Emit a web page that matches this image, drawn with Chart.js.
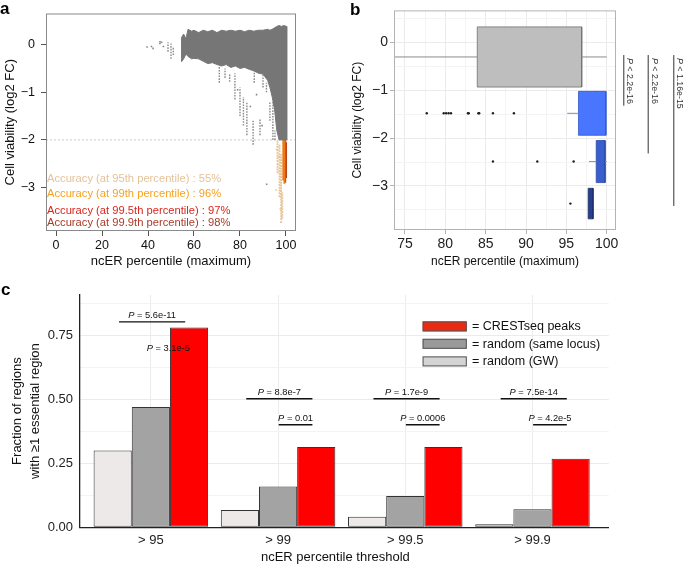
<!DOCTYPE html>
<html><head><meta charset="utf-8">
<script src="https://cdn.jsdelivr.net/npm/chart.js@4.4.1/dist/chart.umd.min.js"></script>
<style>
html,body{margin:0;padding:0;background:#fff;}
#wrap{position:relative;width:685px;height:565px;overflow:hidden;background:#fff;}
canvas{position:absolute;}
</style></head><body>
<div id="wrap">
<canvas id="ca" width="320" height="280" style="left:0;top:0;width:320px;height:280px"></canvas>
<canvas id="cb" width="365" height="280" style="left:320px;top:0;width:365px;height:280px"></canvas>
<canvas id="cc" width="685" height="285" style="left:0;top:280px;width:685px;height:285px"></canvas>
</div>
<script>
// ================= DATA =================
// Panel a: scatter of cell viability vs ncER percentile
const aTicksX = [0, 20, 40, 60, 80, 100];
const aTicksY = [0, -1, -2, -3];
const cloudX   = [54.6, 55.5, 56.5, 57.4, 59, 60, 62, 64, 66, 68, 70, 72, 74, 76, 78, 80, 82, 84, 86, 88, 90, 92, 93, 94, 95, 96, 97, 98, 99, 100.3];
const cloudTop = [0.15, 0.22, 0.12, 0.32, 0.28, 0.3, 0.25, 0.3, 0.27, 0.3, 0.25, 0.3, 0.28, 0.3, 0.28, 0.3, 0.27, 0.3, 0.28, 0.3, 0.3, 0.32, 0.3, 0.32, 0.35, 0.38, 0.4, 0.38, 0.4, 0.38];
const cloudBot = [-0.36, -0.3, -0.2, -0.25, -0.3, -0.29, -0.3, -0.35, -0.4, -0.38, -0.42, -0.45, -0.42, -0.48, -0.45, -0.5, -0.48, -0.52, -0.55, -0.6, -0.62, -0.75, -0.9, -1.1, -1.35, -1.8, -2.0, -2.0, -2.0, -2.0];
const grayColX  = [48.7, 50, 51, 71, 73.5, 75.5, 77.8, 80, 81.5, 83, 85.7, 86.2, 88.7, 90, 91.5, 93, 94.3, 95.2];
const grayColLo = [-0.15, -0.3, -0.22, -0.8, -0.7, -0.78, -1.15, -1.5, -1.7, -1.9, -2.1, -0.8, -1.9, -0.9, -1.0, -1.6, -2.0, -2.0];
const grayColHi = [0.05, 0.02, -0.05, -0.45, -0.5, -0.6, -0.6, -0.9, -1.1, -1.2, -1.6, -0.55, -1.55, -0.6, -0.8, -1.2, -1.2, -1.8];
const grayPtX = [39.6, 41.5, 42.2, 45.2, 45.2, 45.9, 46.7, 91.6, 84.5, 87.2, 89.6, 79];
const grayPtY = [-0.05, -0.04, -0.08, 0.06, 0.02, 0.05, -0.04, -2.93, -1.3, -1.05, -1.7, -0.95];
const tanColX  = [96.3, 97.2, 97.9, 98.4];
const tanColLo = [-2.7, -3.2, -3.74, -3.65];
const tanColHi = [-2.0, -2.1, -2.3, -3.1];
const tanPtX = [95.7, 96.8, 97.5, 95.9];
const tanPtY = [-3.05, -2.35, -3.45, -2.2];
const orangeColX  = [98.8, 99.3];
const orangeColLo = [-2.85, -2.92];
const orangeColHi = [-2.0, -2.0];
const redColX  = [99.7];
const redColLo = [-2.9];
const redColHi = [-2.0];
const darkColX  = [100.1];
const darkColLo = [-2.8];
const darkColHi = [-2.05];
const accLabels = ['Accuracy (at 95th percentile) : 55%', 'Accuracy (at 99th percentile) : 96%',
                   'Accuracy (at 99.5th percentile) : 97%', 'Accuracy (at 99.9th percentile) : 98%'];

// Panel b: boxplots (horizontal)
const bTicksX = [75, 77.5, 80, 82.5, 85, 87.5, 90, 92.5, 95, 97.5, 100];
const bTicksY = [0.5, 0, -0.5, -1, -1.5, -2, -2.5, -3, -3.5];
const boxCenter = [-0.30, -1.48, -2.49, -3.37];
const boxHalf   = [0.63, 0.46, 0.44, 0.32];
const boxQ1     = [83.96, 96.5, 98.7, 97.7];
const boxMed    = [94.1, 98.75, 99.6, 98.25];
const boxQ3     = [96.9, 99.9, 99.8, 98.3];
const whiskLo   = [73.7, 95.1, 97.8, 97.7];
const whiskHi   = [100, 100, 100, 98.3];
const outX      = [77.7, 79.8, 80.1, 80.4, 80.7, 82.8, 82.9, 84.1, 84.2, 85.9, 88.5, 85.9, 91.4, 95.9, 95.5];
const outBox    = [1, 1, 1, 1, 1, 1, 1, 1, 1, 1, 1, 2, 2, 2, 3];
const brTop     = [-0.26, -0.26, -0.26];
const brBottom  = [-1.32, -2.32, -3.42];
const brLabels  = [' < 2.2e-16', ' < 2.2e-16', ' < 1.16e-15'];

// Panel c: grouped bars
const cCategories = ['> 95', '> 99', '> 99.5', '> 99.9'];
const cSeriesNames = ['random (GW)', 'random (same locus)', 'CRESTseq peaks'];
const cGW     = [0.300, 0.068, 0.041, 0.0115];
const cLocus  = [0.470, 0.159, 0.122, 0.070];
const cCrest  = [0.780, 0.313, 0.313, 0.268];
const cTicksY = [0, 0.125, 0.25, 0.375, 0.5, 0.625, 0.75, 0.875];
const pTopText = [' = 5.6e-11', ' = 8.8e-7', ' = 1.7e-9', ' = 7.5e-14'];
const pTopY    = [0.802, 0.502, 0.502, 0.502];
const pLowText = [' = 3.1e-5', ' = 0.01', ' = 0.0006', ' = 4.2e-5'];
const pLowY    = [0.672, 0.40, 0.40, 0.40];
const pLowLine = [false, true, true, true];

// ================= HELPERS =================
const FONT = "'Liberation Sans', Arial, Helvetica, sans-serif";
Chart.defaults.font.family = FONT;
Chart.defaults.color = '#111';
Chart.defaults.animation = false;
Chart.defaults.plugins.legend.display = false;
Chart.defaults.plugins.tooltip.enabled = false;

const minus = v => String(v).replace('-', '\u2212');
function vseg(xs, lo, hi) { const o = []; xs.forEach((x, i) => { o.push({x, y: lo[i]}, {x, y: hi[i]}, {x, y: null}); }); return o; }
function pts(xs, ys) { return xs.map((x, i) => ({x, y: ys[i]})); }
function colDs(xs, lo, hi, color, w, dash) { return {data: vseg(xs, lo, hi), borderColor: color, borderWidth: w, borderDash: dash || [], pointRadius: 0, fill: false, spanGaps: false}; }
function ptDs(xs, ys, color) { return {data: pts(xs, ys), showLine: false, pointRadius: 1.1, pointStyle: 'rect', pointBackgroundColor: color, pointBorderWidth: 0}; }
function setTicks(list) { return s => { s.ticks = list.map(v => ({value: v})); }; }
function panelLetter(ctx, t, x, y) { ctx.save(); ctx.font = 'bold 17px ' + FONT; ctx.fillStyle = '#000'; ctx.textAlign = 'left'; ctx.textBaseline = 'alphabetic'; ctx.fillText(t, x, y); ctx.restore(); }

// ================= PANEL A =================
const cloudPoly = pts(cloudX, cloudTop).concat(pts(cloudX.slice().reverse(), cloudBot.slice().reverse()));
cloudPoly.push({x: cloudX[0], y: cloudTop[0]});

const plugA = {
  id: 'plugA',
  beforeDatasetsDraw(chart) {
    const {ctx, chartArea: a, scales: {y}} = chart;
    const py = y.getPixelForValue(-2);
    ctx.save(); ctx.strokeStyle = '#c8c8c8'; ctx.lineWidth = 1; ctx.setLineDash([2, 2]);
    ctx.beginPath(); ctx.moveTo(a.left, py); ctx.lineTo(a.right, py); ctx.stroke(); ctx.restore();
  },
  afterDraw(chart) {
    const {ctx, chartArea: a} = chart;
    ctx.save();
    ctx.strokeStyle = '#8a8a8a'; ctx.lineWidth = 1;
    ctx.strokeRect(a.left + 0.5, a.top + 0.5, a.right - a.left - 1, a.bottom - a.top - 1);
    const cols = ['#e3c39b', '#f7a21b', '#d9261c', '#a93a26'];
    const offs = [52, 37, 20.3, 8.3];
    ctx.font = '11.2px ' + FONT; ctx.textBaseline = 'middle'; ctx.textAlign = 'left';
    accLabels.forEach((t, i) => { ctx.fillStyle = cols[i]; ctx.fillText(t, a.left + 1, a.bottom - offs[i]); });
    ctx.restore();
    panelLetter(ctx, 'a', 0, 13.5);
  }
};

new Chart(document.getElementById('ca'), {
  type: 'line',
  data: {datasets: [
    {data: cloudPoly, fill: 'shape', backgroundColor: '#767676', borderColor: '#767676', borderWidth: 1, pointRadius: 0, tension: 0},
    colDs(grayColX, grayColLo, grayColHi, '#8a8a8a', 1.4, [1.6, 1.2]),
    ptDs(grayPtX, grayPtY, '#858585'),
    colDs(tanColX, tanColLo, tanColHi, '#e6c496', 1.8, [2, 0.8]),
    ptDs(tanPtX, tanPtY, '#e6c496'),
    colDs(orangeColX, orangeColLo, orangeColHi, '#ee7a12', 1.8),
    colDs(redColX, redColLo, redColHi, '#d9401a', 1.8),
    colDs(darkColX, darkColLo, darkColHi, '#b8401f', 1.6)
  ]},
  options: {
    responsive: false, devicePixelRatio: 1,
    layout: {padding: {top: 9, right: 24, left: 0, bottom: 0}},
    scales: {
      x: {type: 'linear', min: -4.35, max: 104.35, afterBuildTicks: setTicks(aTicksX), afterFit: s => { s.height = 49; },
          grid: {drawOnChartArea: false, drawTicks: true, tickLength: 5, color: '#555', tickColor: '#555'}, border: {display: false},
          ticks: {padding: 2, color: '#111', font: {size: 12.5}, maxRotation: 0, autoSkip: false},
          title: {display: true, text: 'ncER percentile (maximum)', color: '#111', font: {size: 13}, padding: {top: 0, bottom: 10.5}}},
      y: {type: 'linear', min: -3.91, max: 0.651, afterBuildTicks: setTicks(aTicksY), afterFit: s => { s.width = 46; },
          grid: {drawOnChartArea: false, drawTicks: true, tickLength: 5, color: '#555', tickColor: '#555'}, border: {display: false},
          ticks: {padding: 6, color: '#111', font: {size: 12.5}, autoSkip: false, callback: v => minus(v)},
          title: {display: true, text: 'Cell viability (log2 FC)', color: '#111', font: {size: 13}, padding: {top: 2.2, bottom: 0}}}
    }
  },
  plugins: [plugA]
});

// ================= PANEL B =================
const boxFill   = ['#bebebe', '#4876ff', '#3a5fcd', '#27408b'];
const boxBorder = ['#6e6e6e', '#3358c8', '#2a4aa8', '#1d2f6a'];
const medColor  = ['#444444', '#1f3580', '#1a2d6e', '#141f4c'];
function boxPoly(i) {
  const t = boxCenter[i] + boxHalf[i], b = boxCenter[i] - boxHalf[i];
  return [{x: boxQ1[i], y: t}, {x: boxQ3[i], y: t}, {x: boxQ3[i], y: b}, {x: boxQ1[i], y: b}, {x: boxQ1[i], y: t}];
}
const bDatasets = [];
boxCenter.forEach((c, i) => {
  bDatasets.push({data: [{x: whiskLo[i], y: c}, {x: boxQ1[i], y: c}, {x: boxQ1[i], y: null}, {x: boxQ3[i], y: c}, {x: whiskHi[i], y: c}],
                  borderColor: i === 0 ? '#8c8c8c' : '#7f8fb8', borderWidth: 1, pointRadius: 0, fill: false});
});
boxCenter.forEach((c, i) => {
  bDatasets.push({data: boxPoly(i), fill: 'shape', backgroundColor: boxFill[i], borderColor: boxBorder[i], borderWidth: 0.8, pointRadius: 0, tension: 0});
});
boxCenter.forEach((c, i) => {
  bDatasets.push({data: [{x: boxMed[i], y: c + boxHalf[i]}, {x: boxMed[i], y: c - boxHalf[i]}], borderColor: medColor[i], borderWidth: 1.4, pointRadius: 0, fill: false});
});
bDatasets.push({data: outX.map((x, i) => ({x, y: boxCenter[outBox[i]]})), showLine: false, pointRadius: 1.2, pointBackgroundColor: '#222', pointBorderWidth: 0});

const isMinorB = v => Math.abs(v * 2 - Math.round(v * 2)) < 1e-9 && Math.abs(v - Math.round(v)) > 1e-9;
const plugB = {
  id: 'plugB',
  afterDraw(chart) {
    const {ctx, chartArea: a, scales: {y}} = chart;
    ctx.save();
    ctx.strokeStyle = '#b3b3b3'; ctx.lineWidth = 1;
    ctx.strokeRect(a.left + 0.5, a.top + 0.5, a.right - a.left - 1, a.bottom - a.top - 1);
    const xs = [a.right + 7.3, a.right + 31.7, a.right + 57.3];
    ctx.strokeStyle = '#333'; ctx.fillStyle = '#333';
    brTop.forEach((t, i) => {
      const y0 = y.getPixelForValue(t), y1 = y.getPixelForValue(brBottom[i]);
      ctx.beginPath(); ctx.moveTo(xs[i] + 0.5, y0); ctx.lineTo(xs[i] + 0.5, y1); ctx.stroke();
      ctx.save(); ctx.translate(xs[i], y0 + 3); ctx.rotate(Math.PI / 2);
      ctx.textAlign = 'left'; ctx.textBaseline = 'alphabetic';
      ctx.font = 'italic 8.8px ' + FONT; ctx.fillText('P', 0, -4);
      const w = ctx.measureText('P').width;
      ctx.font = '8.8px ' + FONT; ctx.fillText(brLabels[i], w, -4);
      ctx.restore();
    });
    ctx.restore();
    panelLetter(ctx, 'b', 30, 15);
  }
};

new Chart(document.getElementById('cb'), {
  type: 'line',
  data: {datasets: bDatasets},
  options: {
    responsive: false, devicePixelRatio: 1,
    layout: {padding: {top: 9.3, right: 69, left: 0, bottom: 0}},
    scales: {
      x: {type: 'linear', min: 73.64, max: 101.15, afterBuildTicks: setTicks(bTicksX), afterFit: s => { s.height = 50; },
          grid: {drawOnChartArea: true, drawTicks: true, tickLength: 4, color: c => isMinorB(c.tick.value / 5) ? '#f4f4f4' : '#ebebeb',
                 tickColor: c => isMinorB(c.tick.value / 5) ? 'rgba(0,0,0,0)' : '#b3b3b3'}, border: {display: false},
          ticks: {padding: 2, color: '#222', font: {size: 14}, maxRotation: 0, autoSkip: false, callback: v => (v % 5 === 0 ? String(v) : '')},
          title: {display: true, text: 'ncER percentile (maximum)', color: '#111', font: {size: 12}, padding: {top: 0, bottom: 10.8}}},
      y: {type: 'linear', min: -3.923, max: 0.675, afterBuildTicks: setTicks(bTicksY), afterFit: s => { s.width = 74; },
          grid: {drawOnChartArea: true, drawTicks: true, tickLength: 4, color: c => isMinorB(c.tick.value) ? '#f4f4f4' : '#ebebeb',
                 tickColor: c => isMinorB(c.tick.value) ? 'rgba(0,0,0,0)' : '#b3b3b3'}, border: {display: false},
          ticks: {padding: 2, color: '#222', font: {size: 14}, autoSkip: false, callback: v => (Number.isInteger(v) ? minus(v) : '')},
          title: {display: true, text: 'Cell viability (log2 FC)', color: '#111', font: {size: 12}, padding: {top: 30.3, bottom: 0}}}
    }
  },
  plugins: [plugB]
});

// ================= PANEL C =================
const cColors = ['#ede9e9', '#a3a3a3', '#ff0000'];
const cLegendColors = ['#d4d4d4', '#9a9a9a', '#ea2a12'];
const cX = cCategories.map((c, i) => i + 1);
const cSeries = [cGW, cLocus, cCrest];

const plugC = {
  id: 'plugC',
  afterDatasetsDraw(chart) {
    const {ctx, chartArea: a, scales: {x, y}} = chart;
    const u = x.getPixelForValue(2) - x.getPixelForValue(1);
    ctx.save();
    ctx.strokeStyle = '#111'; ctx.fillStyle = '#111'; ctx.lineWidth = 1.4;
    const drawP = (txt, cx, by) => {
      ctx.font = 'italic 9.3px ' + FONT; const w1 = ctx.measureText('P').width;
      ctx.font = '9.3px ' + FONT; const w2 = ctx.measureText(txt).width;
      const x0 = cx - (w1 + w2) / 2;
      ctx.textAlign = 'left'; ctx.textBaseline = 'alphabetic';
      ctx.font = 'italic 9.3px ' + FONT; ctx.fillText('P', x0, by);
      ctx.font = '9.3px ' + FONT; ctx.fillText(txt, x0 + w1, by);
    };
    cX.forEach((c, i) => {
      const cp = x.getPixelForValue(c);
      const l1a = cp - 0.25 * u, l1b = cp + 0.27 * u, py1 = y.getPixelForValue(pTopY[i]);
      ctx.beginPath(); ctx.moveTo(l1a, py1); ctx.lineTo(l1b, py1); ctx.stroke();
      drawP(pTopText[i], (l1a + l1b) / 2, py1 - 4);
      const l2a = cp + 0.005 * u, l2b = cp + 0.27 * u, py2 = y.getPixelForValue(pLowY[i]);
      if (pLowLine[i]) { ctx.beginPath(); ctx.moveTo(l2a, py2); ctx.lineTo(l2b, py2); ctx.stroke(); }
      drawP(pLowText[i], (l2a + l2b) / 2, py2 - 4);
    });
    // legend
    const order = [2, 1, 0];
    const rowY = [a.top + 31.6, a.top + 49.0, a.top + 66.6];
    ctx.lineWidth = 1; ctx.strokeStyle = '#555';
    ctx.font = '12.5px ' + FONT; ctx.textBaseline = 'middle'; ctx.textAlign = 'left';
    order.forEach((s, k) => {
      const bx = a.right - 186.2, by = rowY[k] - 5;
      ctx.fillStyle = cLegendColors[s]; ctx.fillRect(bx, by, 44.2, 10);
      ctx.strokeRect(bx + 0.5, by + 0.5, 43.2, 9);
      ctx.fillStyle = '#111'; ctx.fillText('= ' + cSeriesNames[s], a.right - 136.8, rowY[k] + 0.5);
    });
    ctx.restore();
  },
  afterDraw(chart) { panelLetter(chart.ctx, 'c', 1, 15); }
};

new Chart(document.getElementById('cc'), {
  type: 'bar',
  data: {datasets: cSeries.map((vals, s) => ({
    label: cSeriesNames[s], data: pts(cX, vals), backgroundColor: cColors[s], borderColor: '#333', borderWidth: 1,
    borderSkipped: false, categoryPercentage: 0.9, barPercentage: 1.0
  }))},
  options: {
    responsive: false, devicePixelRatio: 1,
    layout: {padding: {top: 11.7, right: 76.2, left: 0, bottom: 0}},
    scales: {
      x: {type: 'linear', offset: false, min: 0.443, max: 4.6, afterBuildTicks: setTicks(cX), afterFit: s => { s.height = 37.7; },
          grid: {drawOnChartArea: true, drawTicks: false, offset: false, color: '#ececec'}, border: {display: true, color: '#222', width: 1.3},
          ticks: {padding: 5, color: '#222', font: {size: 13}, maxRotation: 0, autoSkip: false, callback: v => cCategories[v - 1]},
          title: {display: true, text: 'ncER percentile threshold\u00a0\u00a0\u00a0\u00a0\u00a0', color: '#111', font: {size: 13}, padding: {top: 0, bottom: 0}}},
      y: {type: 'linear', min: 0, max: 0.9075, afterBuildTicks: setTicks(cTicksY), afterFit: s => { s.width = 80; },
          grid: {drawOnChartArea: true, drawTicks: false, color: c => (Math.abs(c.tick.value * 4 - Math.round(c.tick.value * 4)) < 1e-9 ? '#ebebeb' : '#f3f3f3')},
          border: {display: true, color: '#222', width: 1.3},
          ticks: {padding: 7, color: '#222', font: {size: 13}, autoSkip: false,
                  callback: v => (Math.abs(v * 4 - Math.round(v * 4)) < 1e-9 ? v.toFixed(2) : '')},
          title: {display: true, text: ['Fraction of regions', 'with \u22651 essential region'], color: '#111',
                  font: {size: 13, lineHeight: 1.35}, padding: {top: 8.7, bottom: 0}}}
    }
  },
  plugins: [plugC]
});
</script>
</body></html>
